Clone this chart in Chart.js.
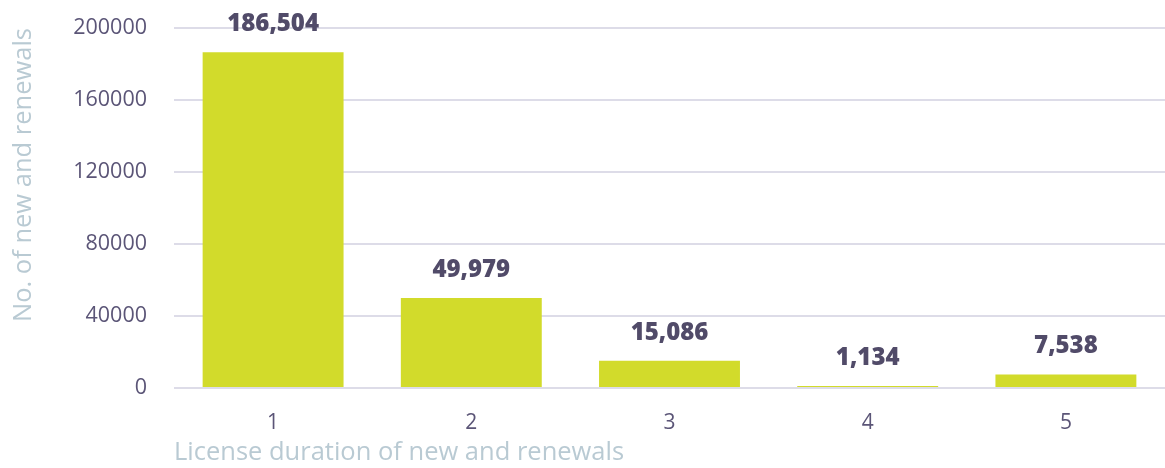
<!DOCTYPE html>
<html>
<head>
<meta charset="utf-8">
<script src="https://cdn.jsdelivr.net/npm/chart.js@4"></script>
<style>
  body { margin: 0; background: #fff; }
  #wrap { width: 1165px; height: 468px; }
</style>
</head>
<body>
<div id="wrap"><canvas id="durationChart"></canvas></div>
<script>
const durations = ['1', '2', '3', '4', '5'];
const licenseCounts = [186504, 49979, 15086, 1134, 7538];
const yTicks = [0, 40000, 80000, 120000, 160000, 200000];

const tickColor = '#5b5577';
const titleColor = '#b9cad3';
const gridColor = '#dddce8';
const barColor = '#d2db2b';

// write the value above each bar
const valueLabels = {
    id: 'valueLabels',
    afterDatasetsDraw(chart) {
        const ctx = chart.ctx;
        const meta = chart.getDatasetMeta(0);
        ctx.save();
        ctx.font = '800 24px "Open Sans", sans-serif';
        ctx.fillStyle = '#514b69';
        ctx.textAlign = 'center';
        ctx.textBaseline = 'alphabetic';
        meta.data.forEach((bar, i) => {
            ctx.fillText(licenseCounts[i].toLocaleString('en-US'), bar.x, bar.y - 21);
        });
        ctx.restore();
    }
};

new Chart(document.getElementById('durationChart'), {
    type: 'bar',
    data: {
        labels: durations,
        datasets: [{
            data: licenseCounts,
            backgroundColor: barColor,
            barPercentage: 0.9,
            categoryPercentage: 0.79,
            minBarLength: 2
        }]
    },
    options: {
        responsive: true,
        maintainAspectRatio: false,
        animation: false,
        layout: { padding: 0 },
        plugins: {
            legend: { display: false },
            tooltip: { enabled: false }
        },
        scales: {
            x: {
                afterFit(scale) {
                    scale.height = 80;
                },
                // the original plot runs a few pixels past the right edge
                afterUpdate(scale) {
                    scale.width += 5;
                    scale.right += 5;
                },
                grid: { display: false, drawTicks: false },
                border: { display: false },
                ticks: {
                    color: tickColor,
                    font: { family: 'Open Sans', size: 21 },
                    padding: 22
                },
                title: {
                    display: true,
                    text: 'License duration of new and renewals',
                    align: 'start',
                    color: titleColor,
                    font: { family: 'Open Sans', size: 25.5 },
                    padding: { top: 0, bottom: 0 }
                }
            },
            y: {
                min: 0,
                max: 200000,
                afterBuildTicks(scale) {
                    scale.ticks = yTicks.map(v => ({ value: v }));
                },
                afterFit(scale) {
                    scale.width = 174;
                    scale.paddingTop = 28;
                },
                grid: { color: gridColor, lineWidth: 2, drawTicks: false },
                border: { display: false },
                ticks: {
                    color: tickColor,
                    font: { family: 'Open Sans', size: 21.5 },
                    padding: 27,
                    callback: v => String(v)
                },
                title: {
                    display: true,
                    text: 'No. of new and renewals',
                    align: 'end',
                    color: titleColor,
                    font: { family: 'Open Sans', size: 25.5 },
                    padding: { top: 8, bottom: 0 }
                }
            }
        }
    },
    plugins: [valueLabels]
});
</script>
</body>
</html>
